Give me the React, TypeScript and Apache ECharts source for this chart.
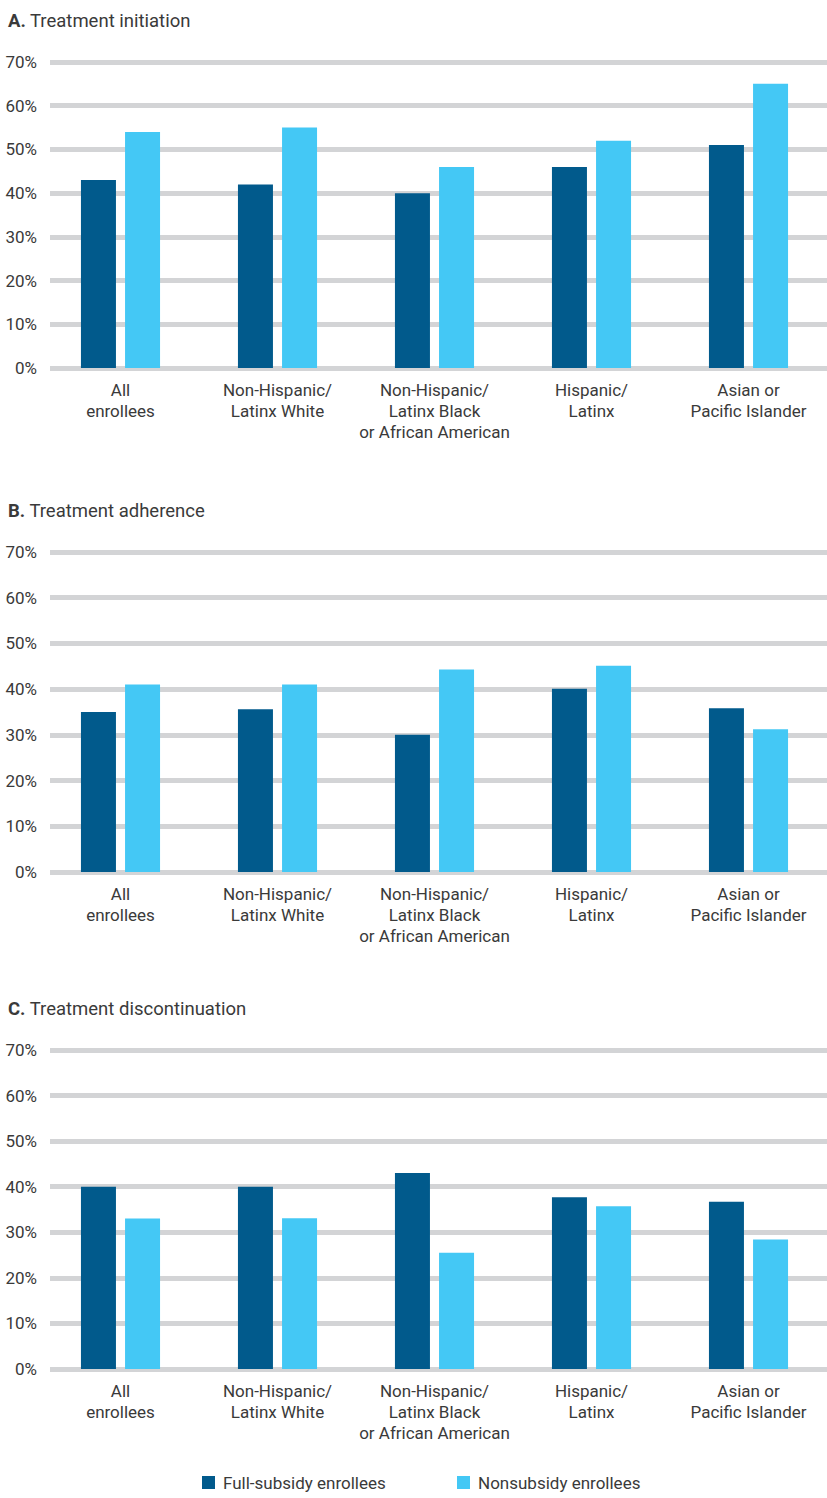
import React, { useEffect, useRef } from "react";
import * as echarts from "echarts";

const categories = [
  "All\nenrollees",
  "Non-Hispanic/\nLatinx White",
  "Non-Hispanic/\nLatinx Black\nor African American",
  "Hispanic/\nLatinx",
  "Asian or\nPacific Islander",
];
const seriesNames = ["Full-subsidy enrollees", "Nonsubsidy enrollees"];
const panelTitles = [
  ["A.", "Treatment initiation"],
  ["B.", "Treatment adherence"],
  ["C.", "Treatment discontinuation"],
];
const yMin = 0;
const yMax = 70;
const yStep = 10;

const initiationFull = [43, 42, 40, 46, 51];
const initiationNon = [54, 55, 46, 52, 65];
const adherenceFull = [35, 35.6, 30, 40.1, 35.8];
const adherenceNon = [41, 41, 44.3, 45.1, 31.2];
const discontinuationFull = [40, 40, 43, 37.7, 36.7];
const discontinuationNon = [33, 33.1, 25.5, 35.7, 28.4];

const panelData = [
  [initiationFull, initiationNon],
  [adherenceFull, adherenceNon],
  [discontinuationFull, discontinuationNon],
];

const DARK = "#015a8c";
const LIGHT = "#44c8f5";
const GRID = "#d3d4d6";
const TEXT = "#3a3a3a";
const FONT = "Roboto";

export default function App() {
  const ref = useRef<HTMLDivElement>(null);
  useEffect(() => {
    if (!ref.current) return;
    const chart = echarts.init(ref.current, null, { renderer: "svg" });
    const panels = [
      { top: 62, bottom: 368, title: 6 },
      { top: 552, bottom: 872, title: 496 },
      { top: 1050, bottom: 1369, title: 994 },
    ];
    const grid: any[] = [];
    const xAxis: any[] = [];
    const yAxis: any[] = [];
    const series: any[] = [];
    const title: any[] = [];
    panels.forEach((p, i) => {
      const h = p.bottom - p.top;
      grid.push({ left: 50, width: 777, top: p.top, height: h });
      grid.push({ left: 42, width: 785, top: p.top, height: h });
      const gi = i * 2;
      xAxis.push({ gridIndex: gi, type: "value", show: false });
      yAxis.push({
        gridIndex: gi,
        type: "value",
        min: yMin,
        max: yMax,
        interval: yStep,
        axisLine: { show: false },
        axisTick: { show: false },
        splitLine: { show: true, lineStyle: { color: GRID, width: 5 } },
        axisLabel: {
          formatter: "{value}%",
          margin: 13,
          color: TEXT,
          fontFamily: FONT,
          fontSize: 17,
        },
      });
      xAxis.push({
        gridIndex: gi + 1,
        type: "category",
        data: categories,
        axisLine: { show: false },
        axisTick: { show: false },
        axisLabel: {
          margin: 11,
          color: TEXT,
          fontFamily: FONT,
          fontSize: 17,
          lineHeight: 21,
          interval: 0,
        },
      });
      yAxis.push({
        gridIndex: gi + 1,
        type: "value",
        min: yMin,
        max: yMax,
        show: false,
        splitLine: { show: false },
      });
      const [full, non] = panelData[i];
      series.push({
        name: seriesNames[0],
        type: "bar",
        xAxisIndex: gi + 1,
        yAxisIndex: gi + 1,
        data: full,
        barWidth: 35,
        barGap: "26%",
        itemStyle: { color: DARK },
      });
      series.push({
        name: seriesNames[1],
        type: "bar",
        xAxisIndex: gi + 1,
        yAxisIndex: gi + 1,
        data: non,
        barWidth: 35,
        barGap: "26%",
        itemStyle: { color: LIGHT },
      });
      title.push({
        left: 3,
        top: p.title,
        text: `{b|${panelTitles[i][0]}} ${panelTitles[i][1]}`,
        textStyle: {
          fontFamily: FONT,
          fontSize: 18.5,
          fontWeight: "normal",
          color: TEXT,
          rich: {
            b: { fontFamily: FONT, fontSize: 18.5, fontWeight: "bold", color: TEXT },
          },
        },
      });
    });
    const legendBase = {
      top: 1469,
      itemWidth: 13,
      itemHeight: 13,
      icon: "rect",
      textStyle: { color: TEXT, fontFamily: FONT, fontSize: 17, padding: [0, 0, 0, 3] },
    };
    chart.setOption({
      animation: false,
      backgroundColor: "#ffffff",
      title,
      grid,
      xAxis,
      yAxis,
      series,
      legend: [
        { ...legendBase, data: [seriesNames[0]], left: 197 },
        { ...legendBase, data: [seriesNames[1]], left: 452 },
      ],
    });
    return () => chart.dispose();
  }, []);
  return (
    <div
      ref={ref}
      style={{ position: "absolute", left: 0, top: 0, width: 827, height: 1498 }}
    />
  );
}
